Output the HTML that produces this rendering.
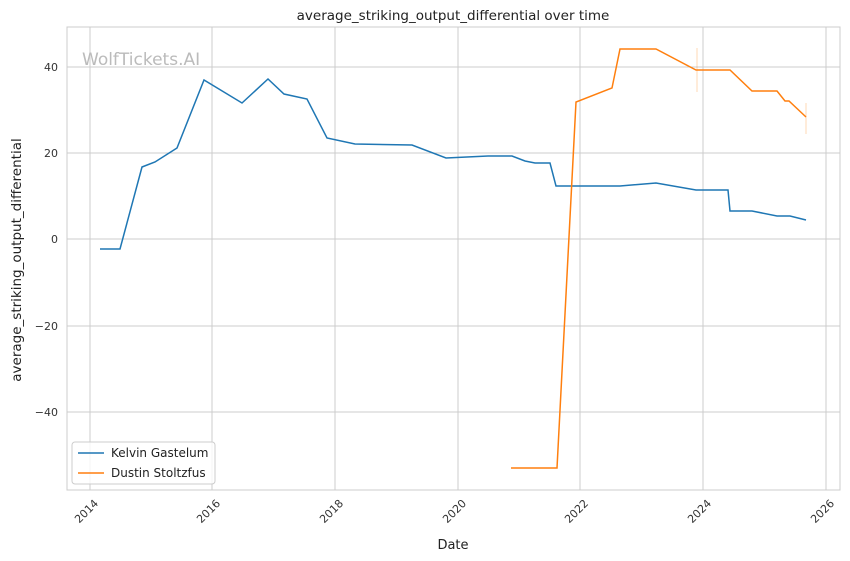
<!DOCTYPE html>
<html><head><meta charset="utf-8"><style>body{margin:0;background:#fff}svg{display:block;font-family:"DejaVu Sans","Liberation Sans",sans-serif}</style></head><body>
<svg width="850" height="561" viewBox="0 0 850 561">
<rect x="67" y="27" width="773" height="463" fill="#fff" stroke="#ccc" stroke-width="1"/>
<g stroke="#ccc" stroke-width="1">
<line x1="90" y1="27" x2="90" y2="490"/><line x1="212" y1="27" x2="212" y2="490"/><line x1="335" y1="27" x2="335" y2="490"/><line x1="458" y1="27" x2="458" y2="490"/><line x1="580" y1="27" x2="580" y2="490"/><line x1="703" y1="27" x2="703" y2="490"/><line x1="826" y1="27" x2="826" y2="490"/>
<line x1="67" y1="67" x2="840" y2="67"/><line x1="67" y1="153" x2="840" y2="153"/><line x1="67" y1="239" x2="840" y2="239"/><line x1="67" y1="326" x2="840" y2="326"/><line x1="67" y1="412" x2="840" y2="412"/>
</g>
<text x="82" y="65" font-size="17" fill="#bbb">WolfTickets.AI</text>
<g font-size="11" fill="#333" text-anchor="end">
<text x="58" y="71">40</text><text x="58" y="157">20</text><text x="58" y="243">0</text><text x="58" y="330">−20</text><text x="58" y="416">−40</text>
</g>
<g font-size="11" fill="#333" text-anchor="end">
<text transform="translate(99,504) rotate(-45)">2014</text><text transform="translate(221,504) rotate(-45)">2016</text><text transform="translate(344,504) rotate(-45)">2018</text><text transform="translate(467,504) rotate(-45)">2020</text><text transform="translate(589,504) rotate(-45)">2022</text><text transform="translate(712,504) rotate(-45)">2024</text><text transform="translate(835,504) rotate(-45)">2026</text>
</g>
<text x="453" y="549" font-size="13" fill="#222" text-anchor="middle">Date</text>
<text transform="translate(21,260) rotate(-90)" font-size="13.5" fill="#222" text-anchor="middle">average_striking_output_differential</text>
<text x="453" y="20" font-size="13.5" fill="#222" text-anchor="middle">average_striking_output_differential over time</text>
<line x1="697" y1="48" x2="697" y2="92" stroke="#ff7f0e" stroke-opacity="0.3"/>
<line x1="806" y1="103" x2="806" y2="134" stroke="#ff7f0e" stroke-opacity="0.3"/>
<polyline fill="none" stroke="#1f77b4" stroke-width="1.5" points="100,249 120,249 142,167 155,162 177,148 204,80 242,103 268,79 284,94 307,99 327,138 355,144 412,145 446,158 488,156 512,156 525,161 535,163 550,163 556,186 620,186 656,183 696,190 728,190 730,211 752,211 777,216 790,216 806,220"/>
<polyline fill="none" stroke="#ff7f0e" stroke-width="1.5" points="511,468 557,468 576,102 612,88 620,49 656,49 696,70 730,70 752,91 777,91 785,101 789,101 806,117"/>
<rect x="72" y="442" width="143" height="42" rx="3" fill="#fff" fill-opacity="0.8" stroke="#ccc"/>
<line x1="78" y1="453" x2="104" y2="453" stroke="#1f77b4" stroke-width="1.5"/>
<line x1="78" y1="473" x2="104" y2="473" stroke="#ff7f0e" stroke-width="1.5"/>
<text x="111" y="457" font-size="12" fill="#222">Kelvin Gastelum</text>
<text x="111" y="477" font-size="12" fill="#222">Dustin Stoltzfus</text>
</svg>
</body></html>
